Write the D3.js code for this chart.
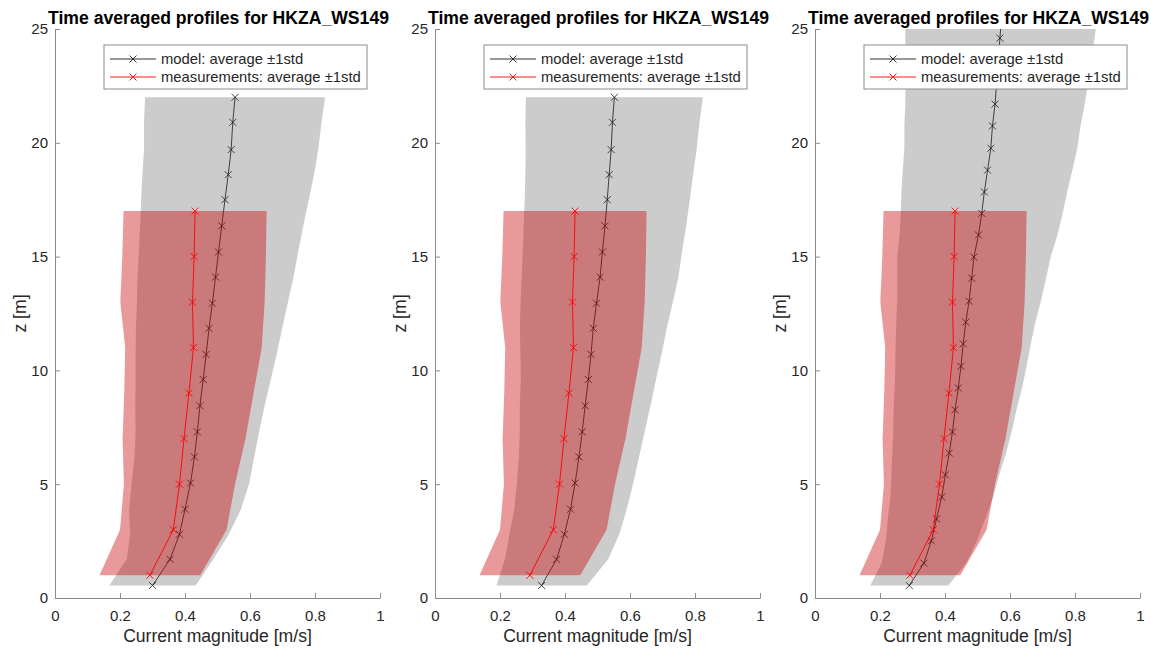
<!DOCTYPE html>
<html><head><meta charset="utf-8">
<script src="https://cdn.jsdelivr.net/npm/d3@7"></script>
<style>
body{margin:0;background:#fff}
svg{display:block}
text{font-family:"Liberation Sans",Arial,Helvetica,sans-serif}
</style>
</head><body>
<svg id="c" width="1151" height="650"></svg>
<script>
// ---------- data ----------
const titleText = "Time averaged profiles for HKZA_WS149";
const xLabelText = "Current magnitude [m/s]";
const yLabelText = "z [m]";
const xTicks = [0, 0.2, 0.4, 0.6, 0.8, 1];
const yTicks = [0, 5, 10, 15, 20, 25];
const legendLabels = ["model: average \u00B11std", "measurements: average \u00B11std"];

const measZ    = [1, 3, 5, 7, 9, 11, 13, 15, 17];
const measMean = [0.292, 0.364, 0.383, 0.397, 0.412, 0.426, 0.423, 0.428, 0.431];
const measStd  = [0.155, 0.164, 0.171, 0.189, 0.199, 0.210, 0.222, 0.221, 0.220];

const model1Z    = [0.55, 1.7, 2.8, 3.9, 5.05, 6.2, 7.3, 8.45, 9.6, 10.7, 11.85, 12.95, 14.1, 15.2, 16.35, 17.5, 18.6, 19.7, 20.9, 22.0];
const model1Mean = [0.300, 0.354, 0.383, 0.400, 0.417, 0.429, 0.438, 0.446, 0.456, 0.465, 0.474, 0.484, 0.494, 0.503, 0.513, 0.523, 0.533, 0.542, 0.547, 0.554];
const model1Std  = [0.133, 0.133, 0.152, 0.172, 0.181, 0.184, 0.190, 0.199, 0.208, 0.217, 0.225, 0.232, 0.240, 0.245, 0.251, 0.258, 0.264, 0.268, 0.273, 0.277];

const model2Z    = [0.55, 1.7, 2.8, 3.9, 5.05, 6.2, 7.3, 8.45, 9.6, 10.7, 11.85, 12.95, 14.1, 15.2, 16.35, 17.5, 18.6, 19.7, 20.9, 22.0];
const model2Mean = [0.328, 0.374, 0.398, 0.417, 0.431, 0.443, 0.453, 0.462, 0.472, 0.480, 0.487, 0.497, 0.508, 0.515, 0.523, 0.530, 0.536, 0.542, 0.546, 0.552];
const model2Std  = [0.139, 0.159, 0.169, 0.173, 0.179, 0.185, 0.192, 0.201, 0.208, 0.217, 0.226, 0.234, 0.241, 0.245, 0.250, 0.254, 0.258, 0.263, 0.268, 0.272];

const model3Z    = [0.55, 1.53, 2.51, 3.48, 4.44, 5.41, 6.37, 7.3, 8.27, 9.23, 10.18, 11.17, 12.12, 13.04, 14.05, 14.98, 15.95, 16.9, 17.84, 18.8, 19.76, 20.74, 21.7, 22.66, 23.62, 24.6, 25.55];
const model3Mean = [0.290, 0.335, 0.358, 0.374, 0.390, 0.401, 0.413, 0.423, 0.431, 0.441, 0.449, 0.456, 0.464, 0.474, 0.482, 0.489, 0.503, 0.513, 0.521, 0.531, 0.541, 0.546, 0.554, 0.559, 0.564, 0.569, 0.574];
const model3Std  = [0.120, 0.130, 0.140, 0.150, 0.158, 0.166, 0.175, 0.182, 0.189, 0.196, 0.202, 0.208, 0.214, 0.221, 0.229, 0.236, 0.243, 0.249, 0.255, 0.261, 0.266, 0.271, 0.276, 0.281, 0.286, 0.291, 0.296];

// ---------- layout ----------
const panelLeft = [55, 435, 815];
const axTop = 29, axW = 325, axH = 569;
const colText = "#262626", colAxis = "#8c8c8c";

const svg = d3.select("#c");
const models = [
  {z: model1Z, m: model1Mean, s: model1Std},
  {z: model2Z, m: model2Mean, s: model2Std},
  {z: model3Z, m: model3Mean, s: model3Std}
];
const meas = measZ.map((z,i)=>({z, m: measMean[i], s: measStd[i]}));

models.forEach((mod, pi) => {
  const data = mod.z.map((z,i)=>({z, m: mod.m[i], s: mod.s[i]}));
  const x = d3.scaleLinear().domain([0,1]).range([0, axW]);
  const y = d3.scaleLinear().domain([0,25]).range([axH, 0]);
  const g = svg.append("g").attr("transform", `translate(${panelLeft[pi]},${axTop})`);
  const cid = "clip" + pi;
  g.append("clipPath").attr("id", cid).append("rect")
    .attr("x", 0).attr("y", 0).attr("width", axW).attr("height", axH);
  const plot = g.append("g").attr("clip-path", `url(#${cid})`);

  const band = d3.area().y(d=>y(d.z)).x0(d=>x(d.m - d.s)).x1(d=>x(d.m + d.s));
  const line = d3.line().x(d=>x(d.m)).y(d=>y(d.z));

  // model band + line
  plot.append("path").attr("d", band(data)).attr("fill", "#cccccc");
  plot.append("path").attr("d", line(data)).attr("fill","none").attr("stroke","#1a1a1a").attr("stroke-width",0.8);
  const mk = 3.5;
  const cross = (sel, col, w) => sel.append("path")
      .attr("d", d => { const cx=x(d.m), cy=y(d.z); return `M${cx-mk},${cy-mk}L${cx+mk},${cy+mk}M${cx-mk},${cy+mk}L${cx+mk},${cy-mk}`; })
      .attr("stroke", col).attr("stroke-width", w).attr("fill","none");
  plot.append("g").selectAll("g").data(data).join("g").call(s=>cross(s,"#1a1a1a",0.8));

  // measurements band + line
  plot.append("path").attr("d", band(meas)).attr("fill", "rgb(200,0,0)").attr("fill-opacity", 0.4);
  plot.append("path").attr("d", line(meas)).attr("fill","none").attr("stroke","#ff0000").attr("stroke-width",0.9);
  plot.append("g").selectAll("g").data(meas).join("g").call(s=>cross(s,"#ff0000",0.9));

  // axes
  const ax = g.append("g").attr("transform", `translate(0,${axH})`)
    .call(d3.axisBottom(x).tickValues(xTicks).tickFormat(d=>String(d)).tickSize(-5).tickSizeOuter(0).tickPadding(12));
  const ay = g.append("g")
    .call(d3.axisLeft(y).tickValues(yTicks).tickFormat(d=>String(d)).tickSize(-5).tickSizeOuter(0).tickPadding(7));
  [ax, ay].forEach(a => {
    a.select(".domain").attr("stroke", colAxis).attr("stroke-width", 1);
    a.selectAll(".tick line").attr("stroke", colAxis).attr("stroke-width", 1);
    a.selectAll(".tick text").attr("fill", colText).attr("font-size", "15px")
      .attr("font-family", '"Liberation Sans",Arial,sans-serif');
  });

  // labels
  g.append("text").attr("x", axW/2).attr("y", 613).attr("text-anchor","middle")
    .attr("font-size","17.6px").attr("fill", colText).text(xLabelText);
  g.append("text").attr("transform", `translate(-29,${axH/2}) rotate(-90)`).attr("text-anchor","middle")
    .attr("font-size","17.6px").attr("fill", colText).text(yLabelText);
  g.append("text").attr("x", axW/2 + 1).attr("y", -5).attr("text-anchor","middle")
    .attr("font-size","17.6px").attr("font-weight","bold").attr("fill","#000").text(titleText);

  // legend
  const lg = g.append("g").attr("transform", `translate(49,16)`);
  lg.append("rect").attr("x",0).attr("y",0).attr("width",263).attr("height",44)
    .attr("fill","#fff").attr("stroke","#8c8c8c").attr("stroke-width",1);
  const items = [{c:"#1a1a1a", t:legendLabels[0]}, {c:"#ff0000", t:legendLabels[1]}];
  items.forEach((it, k) => {
    const yy = 14 + k*18;
    lg.append("line").attr("x1",6).attr("x2",52).attr("y1",yy).attr("y2",yy)
      .attr("stroke", it.c).attr("stroke-width", 0.9);
    lg.append("path").attr("d", `M${29-mk},${yy-mk}L${29+mk},${yy+mk}M${29-mk},${yy+mk}L${29+mk},${yy-mk}`)
      .attr("stroke", it.c).attr("stroke-width", 0.9);
    lg.append("text").attr("x", 57).attr("y", yy).attr("dy","0.35em")
      .attr("font-size","14.8px").attr("fill", colText).text(it.t);
  });
});
</script>
</body></html>
